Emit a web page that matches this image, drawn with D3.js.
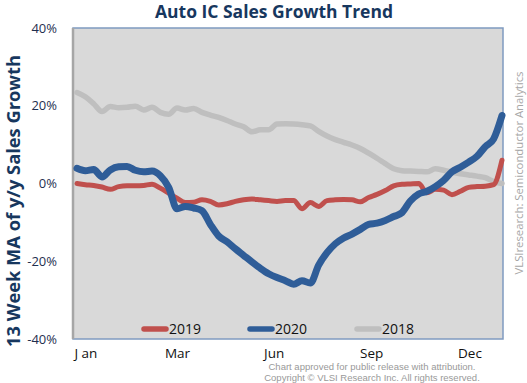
<!DOCTYPE html>
<html>
<head>
<meta charset="utf-8">
<script src="https://cdn.jsdelivr.net/npm/d3@7"></script>
<style>
  body { margin: 0; background: #fff; }
  svg { display: block; }
</style>
</head>
<body>
<div id="chart"></div>
<script>
// Data (13 week moving average of y/y growth, %, one value per week)
var weeks = d3.range(52);
var s2018 = [23.4, 22.3, 20.5, 18.5, 19.8, 19.5, 19.6, 19.9, 18.9, 19.6,
             18.3, 17.8, 19.4, 18.9, 19.3, 18.3, 17.6, 17.0, 16.2, 15.3,
             14.6, 13.3, 13.8, 13.8, 15.3, 15.4, 15.3, 15.1, 14.8, 13.4,
             12.2, 11.3, 10.6, 9.9, 9.0, 7.8, 6.5, 5.1, 3.8, 3.3,
             3.2, 3.1, 3.0, 3.8, 3.4, 2.9, 2.5, 2.2, 1.9, 1.5,
             0.5, 0.0];
var s2019 = [0.0, -0.3, -0.5, -0.9, -1.5, -0.8, -0.6, -0.6, -0.5, -0.2,
             -1.2, -2.5, -3.8, -4.9, -4.8, -4.2, -4.6, -5.5, -5.2, -4.6,
             -4.2, -4.0, -4.2, -4.4, -4.6, -4.4, -4.4, -6.5, -4.9, -5.9,
             -4.4, -4.2, -4.1, -4.2, -4.7, -3.6, -2.8, -1.8, -0.6, -0.2,
             -0.1, 0.0, -2.4, -1.5, -1.7, -2.9, -2.0, -1.0, -0.8, -0.7,
             -0.3, 6.0];
var s2020 = [3.9, 3.3, 3.6, 1.7, 3.5, 4.3, 4.4, 3.4, 3.0, 3.2,
             2.0, -1.0, -6.5, -5.9, -6.3, -7.0, -10.5, -13.5, -15.0, -16.8,
             -18.5, -20.2, -21.8, -23.2, -24.2, -25.0, -25.9, -25.0, -25.6, -21.0,
             -17.8, -15.5, -14.0, -13.0, -11.8, -10.5, -10.2, -9.5, -8.5, -7.5,
             -4.5, -2.7, -2.0, -0.8, 0.8, 3.0, 4.2, 5.5, 7.0, 9.5,
             11.5, 17.5];
var monthLabels = ["J an", "Mar", "Jun", "Sep", "Dec"];
var monthWeeks = [1, 12, 23.6, 35.3, 47.1];
var yTicks = [-40, -20, 0, 20, 40];

var seriesNames = ["2019", "2020", "2018"];
var seriesData = [s2019, s2020, s2018];
var seriesColors = ["#c0504d", "#2f5d98", "#bfbfbf"];
var seriesWidths = [5, 7, 5.5];

var chart_width = 527;
var chart_height = 383;
var plot_left = 73, plot_right = 503, plot_top = 28, plot_bottom = 339;

var svg = d3.select("#chart")
    .append("svg")
    .attr("width", chart_width)
    .attr("height", chart_height)
    .style("font-family", "'Open Sans', sans-serif");

var x = d3.scaleLinear().domain([0, 51]).range([77, 502]);
var y = d3.scaleLinear().domain([-40, 40]).range([plot_bottom, plot_top]);

// plot background
svg.append("rect")
    .attr("x", plot_left).attr("y", plot_top)
    .attr("width", plot_right - plot_left).attr("height", plot_bottom - plot_top)
    .attr("fill", "#d9d9d9")
    .attr("stroke", "#7f9ac0")
    .attr("stroke-width", 1.5);
svg.append("line")
    .attr("x1", plot_left).attr("x2", plot_left)
    .attr("y1", plot_top).attr("y2", plot_bottom)
    .attr("stroke", "#a6a6a6")
    .attr("stroke-width", 2.5);

// lines: gray behind, then red, blue on top
var line = d3.line()
    .x(function(d, i){ return x(weeks[i]); })
    .y(function(d){ return y(d); })
    .curve(d3.curveMonotoneX);

[2, 0, 1].forEach(function(k){
    svg.append("path")
        .attr("d", line(seriesData[k]))
        .attr("fill", "none")
        .attr("stroke", seriesColors[k])
        .attr("stroke-width", seriesWidths[k])
        .attr("stroke-linejoin", "round")
        .attr("stroke-linecap", "round");
});

// y axis
var yAxis = svg.append("g")
    .attr("transform", "translate(" + (plot_left - 16) + ",0)")
    .call(d3.axisLeft(y).tickValues(yTicks).tickSize(0)
        .tickFormat(function(d){ return d + "%"; }));
yAxis.select(".domain").remove();
yAxis.selectAll("text")
    .attr("x", 0)
    .style("font-family", "'Open Sans', sans-serif")
    .style("font-size", "13px")
    .attr("fill", "#1f2f4f");

// x axis
var xAxis = svg.append("g")
    .attr("transform", "translate(0," + (plot_bottom + 6) + ")")
    .call(d3.axisBottom(x).tickValues(monthWeeks).tickSize(0)
        .tickFormat(function(d, i){ return monthLabels[i]; }));
xAxis.select(".domain").remove();
xAxis.selectAll("text")
    .style("font-family", "'Open Sans', sans-serif")
    .style("font-size", "13.5px")
    .attr("fill", "#111");

// title
svg.append("text")
    .attr("x", 274).attr("y", 18)
    .attr("text-anchor", "middle")
    .attr("textLength", 238)
    .attr("lengthAdjust", "spacingAndGlyphs")
    .style("font-size", "17px")
    .style("font-weight", "bold")
    .attr("fill", "#17375e")
    .text("Auto IC Sales Growth Trend");

// y title
svg.append("text")
    .attr("transform", "translate(20,201) rotate(-90)")
    .attr("text-anchor", "middle")
    .attr("textLength", 292)
    .attr("lengthAdjust", "spacingAndGlyphs")
    .style("font-size", "17px")
    .style("font-weight", "bold")
    .attr("fill", "#17375e")
    .text("13 Week MA of y/y Sales Growth");

// side credit
svg.append("text")
    .attr("transform", "translate(523,173) rotate(-90)")
    .attr("text-anchor", "middle")
    .attr("textLength", 203)
    .attr("lengthAdjust", "spacingAndGlyphs")
    .style("font-size", "11.5px")
    .attr("fill", "#a6a6a6")
    .text("VLSIresearch: Semiconductor Analytics");

// legend
var legendX = [142, 248, 355];
var legend = svg.selectAll(".legend")
    .data(seriesNames)
    .enter()
    .append("g")
    .attr("transform", function(d, i){ return "translate(" + legendX[i] + ",329)"; });
legend.append("line")
    .attr("x1", 2).attr("x2", 24)
    .attr("stroke", function(d, i){ return seriesColors[i]; })
    .attr("stroke-width", 5.5)
    .attr("stroke-linecap", "round");
legend.append("text")
    .attr("x", 27).attr("y", 5)
    .style("font-size", "14px")
    .attr("fill", "#111")
    .text(function(d){ return d; });

// footer
var footer = ["Chart approved  for public release with attribution.",
              "Copyright \u00a9 VLSI Research Inc.  All rights reserved."];
svg.selectAll(".footer")
    .data(footer)
    .enter()
    .append("text")
    .attr("x", 372)
    .attr("y", function(d, i){ return 370 + i * 10.5; })
    .attr("text-anchor", "middle")
    .style("font-family", "'Liberation Sans', Arial, sans-serif")
    .style("font-size", "9.5px")
    .attr("fill", "#999")
    .text(function(d){ return d; });
</script>
</body>
</html>
